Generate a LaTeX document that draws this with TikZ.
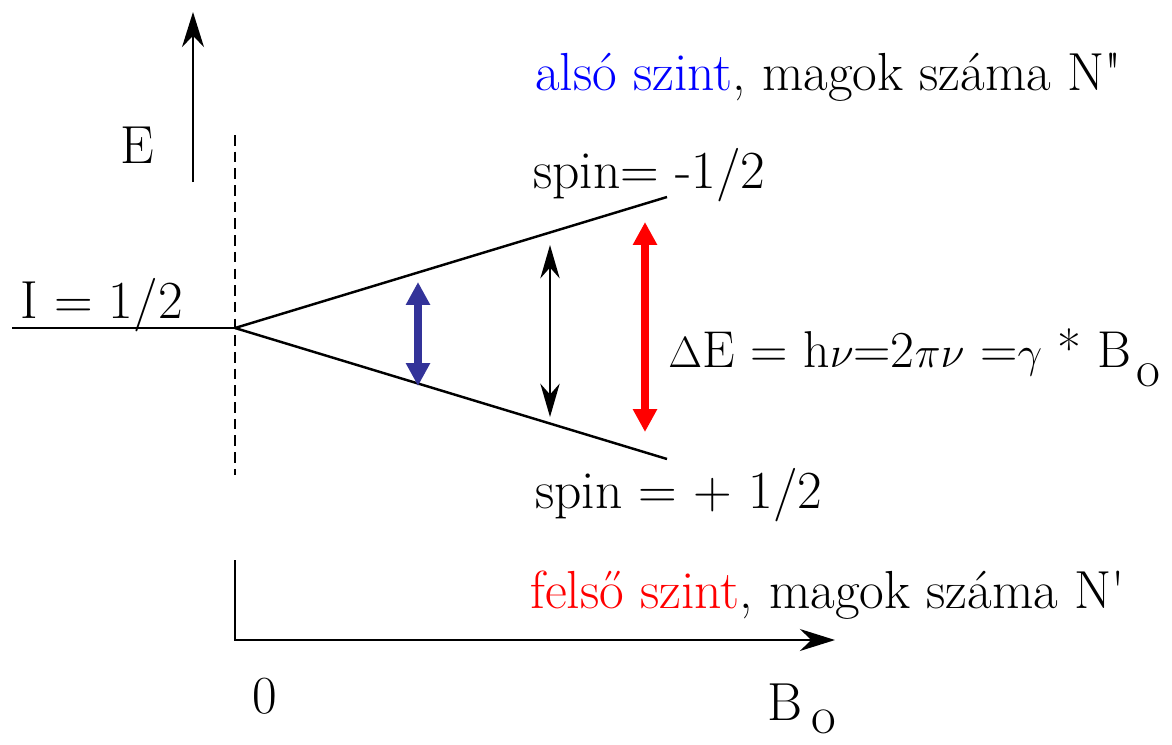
\documentclass[tikz,border=0pt]{standalone}
\usepackage{fontspec}
\usetikzlibrary{arrows.meta}

\definecolor{navyarrow}{RGB}{51,51,153}

\begin{document}
\begin{tikzpicture}[x=0.02cm, y=-0.02cm,
  level/.style={line width=1.4pt},
  axis/.style={line width=1.4pt, -{Stealth[length=20pt, width=12.5pt]}},
  blueflip/.style={navyarrow, line width=5pt,
    {Triangle[length=13pt, width=13pt]}-{Triangle[length=13pt, width=13pt]}},
  blackflip/.style={line width=1.2pt,
    {Stealth[length=19pt, width=11pt]}-{Stealth[length=19pt, width=11pt]}},
  redflip/.style={red, line width=4pt,
    {Triangle[length=13pt, width=13pt]}-{Triangle[length=13pt, width=13pt]}},
  big/.style={font=\fontsize{30.5}{36}\selectfont, inner sep=0pt},
  small/.style={font=\fontsize{30.5}{36}\selectfont, inner sep=0pt}]

\useasboundingbox (0,0) rectangle (1172,744);

% --- Energy axis ---
\coordinate (ebot) at (193,182);
\coordinate (etop) at (193,12);
\draw[axis] (ebot) -- (etop);
\node[big, anchor=base west] (elabel) at (120,163) {E};

% --- Zero field level ---
\coordinate (start) at (12,328);
\coordinate (split) at (235,328);
\node[big, anchor=base west] (ilabel) at (20,318) {I = 1/2};
\draw[level] (start) -- (split);
\draw[line width=1.2pt, dash pattern=on 6pt off 3.5pt] (235,135) -- (235,475);

% --- Split levels ---
\coordinate (upend) at (667,197);
\coordinate (lowend) at (667,459);
\draw[level] (split) -- (upend);
\draw[level] (split) -- (lowend);
\node[big, anchor=base west] (spinup) at (533,188) {spin= -1/2};
\node[big, anchor=base west] (spindown) at (535,508) {spin = + 1/2};

% --- Transitions ---
\coordinate (b1) at (418,282);
\coordinate (b2) at (418,386);
\coordinate (k1) at (550,245);
\coordinate (k2) at (550,417);
\coordinate (r1) at (645,222);
\coordinate (r2) at (645,432);
\draw[blueflip] (b1) -- (b2);
\draw[blackflip] (k1) -- (k2);
\draw[redflip] (r1) -- (r2);
\node[font=\fontsize{29.5}{36}\selectfont, inner sep=0pt, anchor=base west] (gap) at (668,367)
  {$\Delta$E = h$\nu$=2$\pi\nu$ =$\gamma$ * B\kern3pt\raisebox{-0.37em}{o}};

% --- Populations ---
\node[small, anchor=base west] (lower) at (535,90) {\textcolor{blue}{alsó szint}, magok száma N\textquotedbl};
\node[small, anchor=base west] (upper) at (530,608) {\textcolor{red}{felső szint}, magok száma N\textquotesingle};

% --- Field axis ---
\coordinate (btop) at (235,560);
\coordinate (origin) at (235,640);
\coordinate (bend) at (835,640);
\draw[axis] (btop) -- (origin) -- (bend);
\node[big, anchor=base west] (zero) at (252,713) {0};
\node[big, anchor=base west] (blabel) at (767,720) {B\raisebox{-0.25em}{\,o}};

\end{tikzpicture}
\end{document}
